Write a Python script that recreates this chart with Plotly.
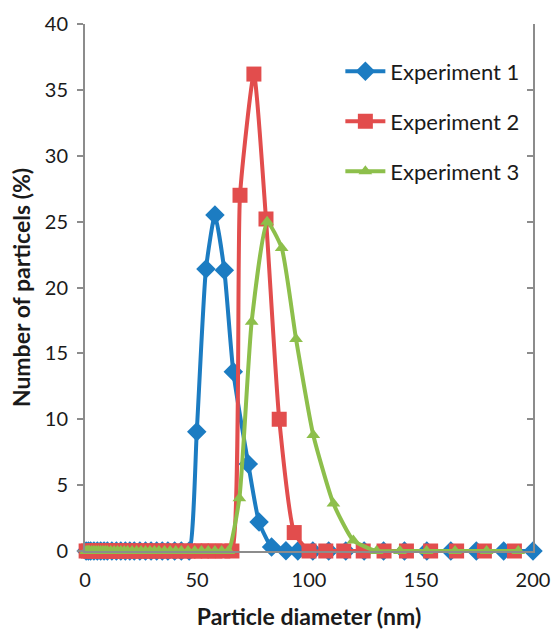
import plotly.graph_objects as go

# Experiment 1 (blue diamonds)
exp1_x = [0.5, 1.5, 2.5, 4, 5.5, 7, 8.5, 10, 12, 14, 16, 18, 20, 22, 24.5, 27, 29.5, 32, 34.5, 37, 40, 43, 46.5,
          49.9, 54.0, 58.0, 62.2, 66.2, 72.9, 77.7, 83.3, 89.7,
          95.0, 101.7, 108.8, 116.4, 124.6, 133.3, 142.6, 152.6, 163.3, 174.7, 186.9, 200.0]
exp1_y = [0]*23 + [9.06, 21.4, 25.5, 21.3, 13.6, 6.6, 2.2, 0.3, 0.02] + [0]*12

# Experiment 2 (red squares)
exp2_x = [0.5, 1.5, 2.5, 4, 5.5, 7, 8.5, 10, 11.5, 13, 14.5, 16, 18, 20, 22, 24, 26, 28, 30, 32.5, 35, 37.5, 40,
          43, 46, 49, 52, 55, 58, 61.5, 65.6,
          69.2, 75.4, 80.8, 86.7, 93.4,
          100.0, 107.5, 115.5, 124.2, 133.5, 143.5, 154.3, 165.9, 178.3, 191.7]
exp2_y = [0]*31 + [27.0, 36.2, 25.2, 10.0, 1.4] + [0]*10

# Experiment 3 (green triangles)
exp3_x = [0.5, 1, 1.5, 2, 3, 4, 5, 6, 7, 8, 9, 10, 11.5, 13, 14.5, 16, 17.5, 19, 21, 23, 25, 27, 29, 31, 33,
          35.5, 38, 40.5, 43, 46, 49, 52, 55, 58, 61, 64,
          68.9, 74.4, 81.3, 87.8, 94.2, 101.9, 110.9, 119.8, 130.2,
          140.6, 152.5, 165.2, 179.3, 193.4]
exp3_y = [0]*36 + [4.0, 17.4, 25.0, 23.0, 16.1, 8.8, 3.6, 0.8, 0.0] + [0]*5

names = ["Experiment 1", "Experiment 2", "Experiment 3"]
colors = ["#1C7CC2", "#E24D4D", "#8DBF4B"]
symbols = ["diamond", "square", "triangle-up"]
sizes = [15, 15, 12]

x_ticks = [0, 50, 100, 150, 200]
y_ticks = [0, 5, 10, 15, 20, 25, 30, 35, 40]

fig = go.Figure()
for i, (xs, ys) in enumerate([(exp1_x, exp1_y), (exp2_x, exp2_y), (exp3_x, exp3_y)]):
    fig.add_trace(go.Scatter(
        x=xs, y=ys, name=names[i], mode="lines+markers",
        line=dict(color=colors[i], width=4, shape="spline", smoothing=0.5),
        marker=dict(symbol=symbols[i], size=sizes[i], color=colors[i], line=dict(width=0)),
        legendgroup=names[i], cliponaxis=False,
    ))

font_family = "Lato, 'Liberation Sans', sans-serif"
fig.update_layout(
    width=552, height=630,
    margin=dict(l=85, r=19, t=24, b=79, autoexpand=False),
    plot_bgcolor="white", paper_bgcolor="white",
    font=dict(family=font_family, size=20, color="#1a1a1a"),
    showlegend=True,
    legend=dict(x=0.57, y=0.95, xanchor="left", yanchor="top",
                bgcolor="rgba(0,0,0,0)", font=dict(size=22, family=font_family),
                tracegroupgap=18.5, itemwidth=40),
    xaxis=dict(range=[0, 200], tickvals=x_ticks, showgrid=False, zeroline=False, automargin=False,
               showline=True, linecolor="#8c8c8c", linewidth=2, ticks="",
               tickfont=dict(size=20), ticklabelstandoff=10,
               title=dict(text="<b>Particle diameter (nm)</b>", font=dict(size=23), standoff=20)),
    yaxis=dict(range=[0, 40], tickvals=y_ticks, showgrid=False, zeroline=False, automargin=False,
               showline=True, linecolor="#8c8c8c", linewidth=2, ticks="outside",
               tickcolor="#8c8c8c", tickwidth=2, ticklen=6, tickfont=dict(size=20),
               ticklabelstandoff=5,
               title=dict(text="<b>Number of particels (%)</b>", font=dict(size=23), standoff=8)),
    yaxis2=dict(range=[0, 40], tickvals=y_ticks, overlaying="y", side="right", automargin=False,
                showgrid=False, zeroline=False, showline=True, linecolor="#8c8c8c",
                linewidth=2, ticks="inside", tickcolor="#8c8c8c", tickwidth=2, ticklen=6,
                showticklabels=False),
)
fig.add_trace(go.Scatter(x=[None], y=[None], yaxis="y2", showlegend=False, hoverinfo="skip"))

fig.write_html("out.html")
